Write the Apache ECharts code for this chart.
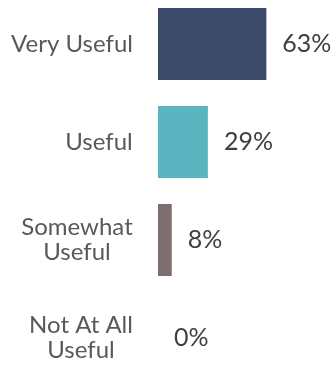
<!DOCTYPE html>
<html>
<head>
<meta charset="utf-8">
<script src="https://cdn.jsdelivr.net/npm/echarts@6/dist/echarts.min.js"></script>
<style>
  html, body { margin: 0; padding: 0; background: #fff; }
  #chart { width: 336px; height: 366px; }
</style>
</head>
<body>
<div id="chart"></div>
<script>
// Survey responses: how useful respondents found it (share of answers, %)
const categories = ['Very Useful', 'Useful', 'Somewhat\nUseful', 'Not At All\nUseful'];
const shares = [63, 29, 8, 0];
const barColors = ['#3C4A69', '#5BB5C1', '#7F6E6F', '#A5A5A5'];

const labelFont = '24px Lato';

// Width of the widest line of a label, so wrapped lines can be centred on each other
function widestLine(text) {
  const ctx = document.createElement('canvas').getContext('2d');
  ctx.font = labelFont;
  return Math.ceil(Math.max(...text.split('\n').map(s => ctx.measureText(s).width)));
}

const chart = echarts.init(document.getElementById('chart'));
chart.setOption({
  animation: false,
  grid: { left: 158, width: 172, top: -5, height: 392, outerBoundsMode: 'none' },
  xAxis: {
    type: 'value', min: 0, max: 100,
    show: false
  },
  yAxis: {
    type: 'category',
    inverse: true,
    data: categories.map(c => ({
      value: c,
      textStyle: {
        rich: { t: { width: widestLine(c), align: 'center' } }
      }
    })),
    axisLine: { show: false },
    axisTick: { show: false },
    axisLabel: {
      margin: 25,
      align: 'right',
      color: '#595959',
      fontFamily: 'Lato',
      fontSize: 24,
      lineHeight: 25,
      formatter: v => v.split('\n').map(s => '{t|' + s + '}').join('\n'),
      rich: {
        t: { fontFamily: 'Lato', fontSize: 24, lineHeight: 25, color: '#595959', align: 'center' }
      }
    }
  },
  series: [{
    type: 'bar',
    barWidth: 72,
    data: shares.map((v, i) => ({ value: v, itemStyle: { color: barColors[i] } })),
    label: {
      show: true,
      position: 'right',
      distance: 16,
      formatter: '{c}%',
      color: '#404040',
      fontFamily: 'Lato',
      fontSize: 25
    }
  }]
});
</script>
</body>
</html>
